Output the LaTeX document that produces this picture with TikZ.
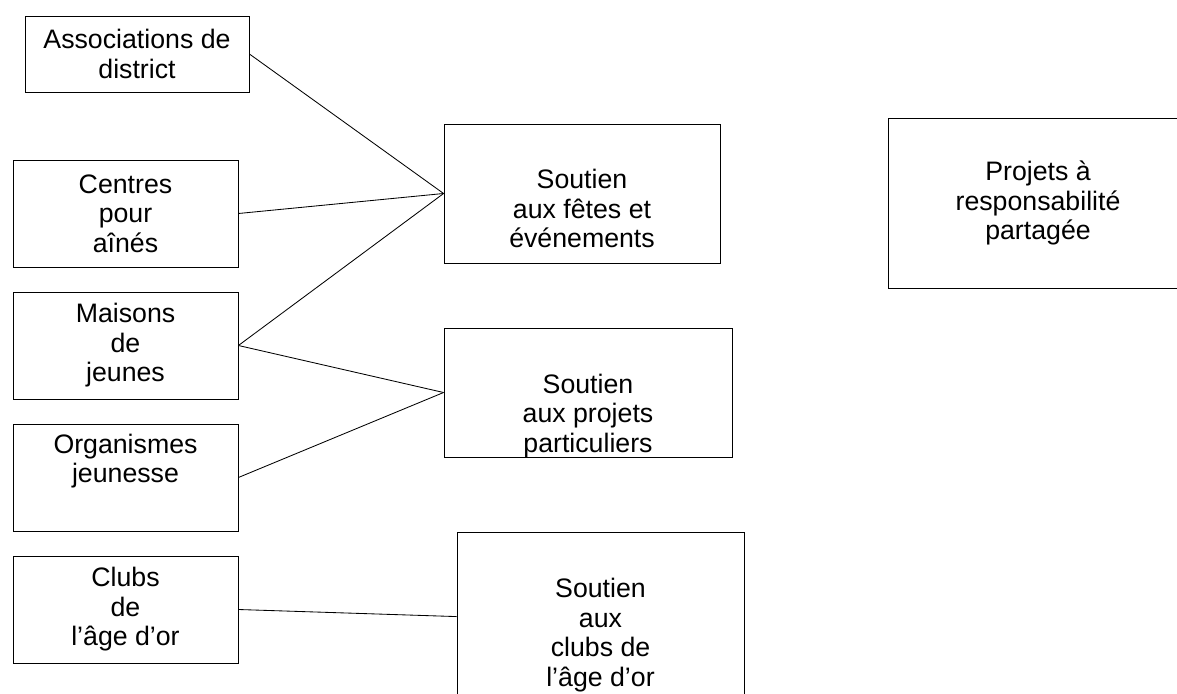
\documentclass[tikz,border=0pt]{standalone}
\usepackage{fontspec}
\setmainfont{Liberation Sans}

\begin{document}
\begin{tikzpicture}[line width=0.6pt,
    boite/.style={draw, rectangle, align=center, inner sep=0pt,
        font=\fontsize{19}{21}\selectfont}]

    \useasboundingbox (0, 0) rectangle (29.425, -17.325);

    % -- Colonne di sinistra: gli organismi --
    \node[boite, minimum width=5.6cm, minimum height=1.9cm] (assoc) at (3.425, -1.35)
        {Associations de\\district};
    \node[boite, minimum width=5.625cm, minimum height=2.675cm] (centres) at (3.1375, -5.3375)
        {Centres\\pour\\aînés};
    \node[boite, minimum width=5.625cm, minimum height=2.675cm] (maisons) at (3.1375, -8.6375)
        {Maisons\\de\\jeunes};
    \node[boite, minimum width=5.625cm, minimum height=2.675cm] (organismes) at (3.1375, -11.9375)
        {Organismes\\jeunesse\\\strut};
    \node[boite, minimum width=5.625cm, minimum height=2.675cm] (clubs) at (3.1375, -15.2375)
        {Clubs\\de\\l'âge d'or};

    % -- Colonna centrale: i soutiens --
    \node[boite, minimum width=6.9cm, minimum height=3.475cm] (fetes) at (14.55, -4.8375)
        {\strut\\Soutien\\aux fêtes et\\événements};
    \node[boite, minimum width=7.2cm, minimum height=3.225cm] (particuliers) at (14.7, -9.8125)
        {\rule{0pt}{22pt}\\Soutien\\aux projets\\\smash{particuliers}};
    \node[boite, minimum width=7.175cm, minimum height=5.15cm] (clubsor) at (15.0125, -15.875)
        {Soutien\\aux\\clubs de\\l'âge d'or};

    % -- Parte destra --
    \node[boite, minimum width=7.5cm, minimum height=4.25cm] (projets) at (25.95, -5.075)
        {Projets à\\responsabilité\\partagée};

    % Collegamenti
    \draw (assoc.east) -- (fetes.west);
    \draw (centres.east) -- (fetes.west);
    \draw (maisons.east) -- (fetes.west);
    \draw (maisons.east) -- (particuliers.west);
    \draw (organismes.east) -- (particuliers.west);
    \draw (clubs.east) -- ([shift={(0,-2.125)}]clubsor.north west);
\end{tikzpicture}
\end{document}
